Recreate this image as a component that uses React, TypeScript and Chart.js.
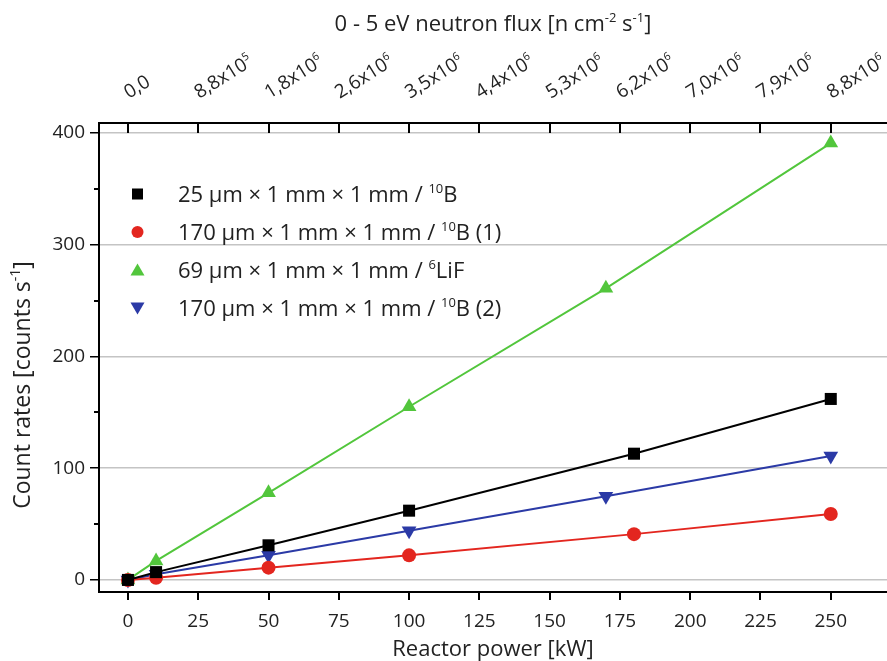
import React, { useEffect, useRef } from "react";
import { Chart, registerables } from "chart.js";

Chart.register(...registerables);

// Reactor power [kW] and measured count rates [counts/s]
const powerB25 = [0, 10, 50, 100, 180, 250];
const ratesB25 = [0, 7, 31, 62, 113, 162];

const powerB170a = [0, 10, 50, 100, 180, 250];
const ratesB170a = [0, 2, 11, 22, 41, 59];

const powerLiF = [0, 10, 50, 100, 170, 250];
const ratesLiF = [0, 17, 78, 155, 261, 391];

const powerB170b = [0, 10, 50, 100, 170, 250];
const ratesB170b = [0, 5, 22, 44, 75, 111];

// Axis ticks
const powerTicks = [0, 25, 50, 75, 100, 125, 150, 175, 200, 225, 250];
const rateTicks = [0, 100, 200, 300, 400];
const rateMinorTicks = [50, 150, 250, 350];

// Secondary (top) axis: neutron flux at each power tick, mantissa and power of ten
const fluxMantissa = ["0,0", "8,8", "1,8", "2,6", "3,5", "4,4", "5,3", "6,2", "7,0", "7,9", "8,8"];
const fluxExponent = ["", "5", "6", "6", "6", "6", "6", "6", "6", "6", "6"];

type Seg = { t: string; sup?: boolean };

const legendItems: { segs: Seg[]; color: string; marker: string; rotation: number }[] = [
  { segs: [{ t: "25 µm × 1 mm × 1 mm / " }, { t: "10", sup: true }, { t: "B" }], color: "#000000", marker: "rect", rotation: 0 },
  { segs: [{ t: "170 µm × 1 mm × 1 mm / " }, { t: "10", sup: true }, { t: "B (1)" }], color: "#e3261f", marker: "circle", rotation: 0 },
  { segs: [{ t: "69 µm × 1 mm × 1 mm / " }, { t: "6", sup: true }, { t: "LiF" }], color: "#52c63c", marker: "triangle", rotation: 0 },
  { segs: [{ t: "170 µm × 1 mm × 1 mm / " }, { t: "10", sup: true }, { t: "B (2)" }], color: "#2b3aa6", marker: "triangle", rotation: 180 },
];

const FONT = "'Open Sans', 'Noto Sans', sans-serif";

function richWidth(ctx: CanvasRenderingContext2D, segs: Seg[], size: number) {
  let w = 0;
  for (const s of segs) {
    ctx.font = `${s.sup ? Math.round(size * 0.6) : size}px ${FONT}`;
    w += ctx.measureText(s.t).width;
  }
  return w;
}

function drawRich(ctx: CanvasRenderingContext2D, segs: Seg[], x: number, y: number, size: number, align: "left" | "center") {
  let cx = align === "center" ? x - richWidth(ctx, segs, size) / 2 : x;
  ctx.textAlign = "left";
  ctx.textBaseline = "alphabetic";
  for (const s of segs) {
    const sz = s.sup ? Math.round(size * 0.6) : size;
    ctx.font = `${sz}px ${FONT}`;
    ctx.fillText(s.t, cx, s.sup ? y - size * 0.42 : y);
    cx += ctx.measureText(s.t).width;
  }
}

const annotations = {
  id: "annotations",
  afterDraw(chart: any) {
    const ctx: CanvasRenderingContext2D = chart.ctx;
    const xs = chart.scales.x;
    const ys = chart.scales.y;
    const area = chart.chartArea;
    ctx.save();
    ctx.fillStyle = "#222";
    ctx.strokeStyle = "#000";

    // inward tick marks on the top axis
    ctx.lineWidth = 2;
    for (const v of powerTicks) {
      const px = Math.round(xs.getPixelForValue(v));
      ctx.beginPath();
      ctx.moveTo(px, area.top);
      ctx.lineTo(px, area.top + 10);
      ctx.stroke();
    }
    // minor ticks on the left axis
    for (const v of rateMinorTicks) {
      const py = Math.round(ys.getPixelForValue(v));
      ctx.beginPath();
      ctx.moveTo(area.left - 5, py);
      ctx.lineTo(area.left, py);
      ctx.stroke();
    }

    // rotated flux labels on the top axis
    powerTicks.forEach((v, i) => {
      const px = xs.getPixelForValue(v);
      ctx.save();
      ctx.translate(px + 1, 99);
      ctx.rotate((-32 * Math.PI) / 180);
      const segs: Seg[] = fluxExponent[i]
        ? [{ t: fluxMantissa[i] + "x10" }, { t: fluxExponent[i], sup: true }]
        : [{ t: fluxMantissa[i] }];
      drawRich(ctx, segs, 0, 0, 19, "left");
      ctx.restore();
    });

    // axis titles
    const midX = (area.left + area.right) / 2;
    drawRich(ctx, [{ t: "0 - 5 eV neutron flux [n cm" }, { t: "-2", sup: true }, { t: " s" }, { t: "-1", sup: true }, { t: "]" }], midX, 31, 22, "center");
    drawRich(ctx, [{ t: "Reactor power [kW]" }], midX, 656, 22, "center");
    ctx.save();
    ctx.translate(30, 385);
    ctx.rotate(-Math.PI / 2);
    drawRich(ctx, [{ t: "Count rates [counts s" }, { t: "-1", sup: true }, { t: "]" }], 0, 0, 23, "center");
    ctx.restore();

    // legend
    const rowY = [194, 232, 270, 308];
    legendItems.forEach((it, i) => {
      const y = rowY[i];
      ctx.fillStyle = it.color;
      ctx.beginPath();
      if (it.marker === "rect") {
        ctx.fillRect(132, y - 5.5, 11, 11);
      } else if (it.marker === "circle") {
        ctx.arc(137.5, y, 6, 0, Math.PI * 2);
        ctx.fill();
      } else if (it.rotation === 0) {
        ctx.moveTo(137.5, y - 6.5);
        ctx.lineTo(144.5, y + 5.5);
        ctx.lineTo(130.5, y + 5.5);
        ctx.closePath();
        ctx.fill();
      } else {
        ctx.moveTo(137.5, y + 6.5);
        ctx.lineTo(144.5, y - 5.5);
        ctx.lineTo(130.5, y - 5.5);
        ctx.closePath();
        ctx.fill();
      }
      ctx.fillStyle = "#222";
      drawRich(ctx, it.segs, 178, y + 8, 22, "left");
    });
    ctx.restore();
  },
};

function toPoints(xs: number[], ys: number[]) {
  return xs.map((x, i) => ({ x, y: ys[i] }));
}

const noPadding = (s: any) => {
  s.paddingLeft = 0;
  s.paddingRight = 0;
  s.paddingTop = 0;
  s.paddingBottom = 0;
};

export default function App() {
  const ref = useRef<HTMLCanvasElement>(null);

  useEffect(() => {
    if (!ref.current) return;
    const mk = (data: any, color: string, style: string, rot: number, r: number) => ({
      data,
      borderColor: color,
      backgroundColor: color,
      borderWidth: 2,
      pointStyle: style,
      pointRotation: rot,
      pointRadius: r,
      pointBorderWidth: 0,
      showLine: true,
      tension: 0,
      clip: false,
    });
    const chart = new Chart(ref.current, {
      type: "scatter",
      data: {
        datasets: [
          mk(toPoints(powerB25, ratesB25), "#000000", "rect", 0, 8.5),
          mk(toPoints(powerB170a, ratesB170a), "#e3261f", "circle", 0, 7),
          mk(toPoints(powerLiF, ratesLiF), "#52c63c", "triangle", 0, 8.5),
          mk(toPoints(powerB170b, ratesB170b), "#2b3aa6", "triangle", 180, 8.5),
        ],
      },
      options: {
        animation: false,
        responsive: false,
        maintainAspectRatio: false,
        layout: { padding: 0, autoPadding: false },
        plugins: { legend: { display: false }, tooltip: { enabled: false } },
        scales: {
          x: {
            type: "linear",
            position: "bottom",
            min: -10.3,
            max: 270,
            afterBuildTicks: (s: any) => {
              s.ticks = powerTicks.map((v) => ({ value: v }));
            },
            afterFit: (s: any) => {
              s.height = 69;
              noPadding(s);
            },
            border: { display: true, color: "#000", width: 2 },
            grid: { drawOnChartArea: false, drawTicks: true, tickLength: 8, tickColor: "#000", lineWidth: 2 },
            ticks: { color: "#222", font: { family: FONT, size: 19 }, padding: 10, maxRotation: 0 },
          },
          x2: {
            type: "linear",
            position: "top",
            min: -10.3,
            max: 270,
            afterFit: (s: any) => {
              s.height = 123;
              noPadding(s);
            },
            border: { display: true, color: "#000", width: 2 },
            grid: { drawOnChartArea: false, drawTicks: false },
            ticks: { display: false },
          },
          y: {
            type: "linear",
            min: -10.8,
            max: 409,
            afterBuildTicks: (s: any) => {
              s.ticks = rateTicks.map((v) => ({ value: v }));
            },
            afterFit: (s: any) => {
              s.width = 99;
              noPadding(s);
            },
            border: { display: true, color: "#000", width: 2 },
            grid: { drawOnChartArea: true, drawTicks: true, tickLength: 9, color: "#c4c4c4", tickColor: "#000", lineWidth: 1.5 },
            ticks: { color: "#222", font: { family: FONT, size: 19 }, padding: 5 },
          },
        },
      },
      plugins: [annotations],
    });
    return () => chart.destroy();
  }, []);

  return (
    <div style={{ position: "fixed", left: 0, top: 0, width: 887, height: 661, background: "#fff" }}>
      <canvas ref={ref} width={887} height={661} style={{ width: 887, height: 661 }} />
    </div>
  );
}
